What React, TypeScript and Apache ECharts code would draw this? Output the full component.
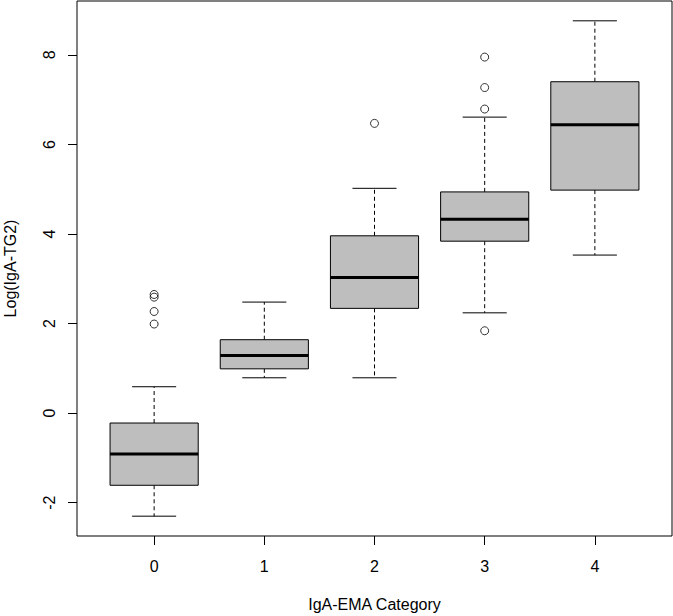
import React, { useEffect, useRef } from "react";
import * as echarts from "echarts";

// Five IgA-EMA categories, with the five-number summary of each box
const categories = ["0", "1", "2", "3", "4"];
const whiskerLow = [-2.3, 0.79, 0.79, 2.24, 3.53];
const lowerQuartile = [-1.61, 0.99, 2.34, 3.84, 4.98];
const median = [-0.91, 1.29, 3.03, 4.33, 6.44];
const upperQuartile = [-0.22, 1.64, 3.96, 4.94, 7.4];
const whiskerHigh = [0.59, 2.48, 5.02, 6.61, 8.76];

// Points beyond the whiskers
const outlierCategory = [0, 0, 0, 0, 2, 3, 3, 3, 3];
const outlierValue = [1.99, 2.27, 2.59, 2.65, 6.47, 7.95, 7.27, 6.79, 1.84];

const xTicks = [0, 1, 2, 3, 4];
const yTicks = [-2, 0, 2, 4, 6, 8];

const FONT = "'Liberation Sans', Arial, Helvetica, sans-serif";

export default function App() {
  const ref = useRef<HTMLDivElement>(null);

  useEffect(() => {
    if (!ref.current) return;
    const chart = echarts.init(ref.current, null, { renderer: "svg" });

    // y range: data extent widened by 4% on each side
    const allValues = [...whiskerLow, ...whiskerHigh, ...outlierValue];
    const lo = Math.min(...allValues);
    const hi = Math.max(...allValues);
    const pad = (hi - lo) * 0.04;

    const boxData = categories.map((_, i) => [
      i,
      whiskerLow[i],
      lowerQuartile[i],
      median[i],
      upperQuartile[i],
      whiskerHigh[i],
    ]);
    const outlierData = outlierCategory.map((c, i) => [c, outlierValue[i]]);

    const renderBox = (params: any, api: any) => {
      const x = api.value(0);
      const [cx, yLow] = api.coord([x, api.value(1)]);
      const yQ1 = api.coord([x, api.value(2)])[1];
      const yMed = api.coord([x, api.value(3)])[1];
      const yQ3 = api.coord([x, api.value(4)])[1];
      const yHigh = api.coord([x, api.value(5)])[1];
      const half = api.size([0.8, 0])[0] / 2;
      const capHalf = half / 2;
      const solid = { stroke: "#000", lineWidth: 1 };
      const dashed = { stroke: "#000", lineWidth: 1, lineDash: [4, 3] };
      return {
        type: "group",
        children: [
          { type: "line", shape: { x1: cx, y1: yQ3, x2: cx, y2: yHigh }, style: dashed },
          { type: "line", shape: { x1: cx, y1: yQ1, x2: cx, y2: yLow }, style: dashed },
          { type: "line", shape: { x1: cx - capHalf, y1: yHigh, x2: cx + capHalf, y2: yHigh }, style: solid },
          { type: "line", shape: { x1: cx - capHalf, y1: yLow, x2: cx + capHalf, y2: yLow }, style: solid },
          {
            type: "rect",
            shape: { x: cx - half, y: yQ3, width: half * 2, height: yQ1 - yQ3 },
            style: { fill: "#BEBEBE", stroke: "#000", lineWidth: 1 },
          },
          {
            type: "line",
            shape: { x1: cx - half, y1: yMed, x2: cx + half, y2: yMed },
            style: { stroke: "#000", lineWidth: 3 },
          },
        ],
      };
    };

    chart.setOption({
      animation: false,
      backgroundColor: "#fff",
      textStyle: { fontFamily: FONT },
      grid: {
        left: 77,
        right: 1,
        top: 1,
        bottom: 80,
        containLabel: false,
        outerBoundsMode: "none",
        show: true,
        borderColor: "#000",
        borderWidth: 1,
        backgroundColor: "transparent",
      },
      xAxis: {
        type: "value",
        min: -0.7,
        max: 4.7,
        name: "IgA-EMA Category",
        nameLocation: "middle",
        nameGap: 60,
        nameTextStyle: { fontSize: 16, color: "#000", fontFamily: FONT },
        axisLine: { show: false, onZero: false },
        splitLine: { show: false },
        axisTick: {
          show: true,
          customValues: xTicks,
          length: 9,
          lineStyle: { color: "#000", width: 1 },
        },
        axisLabel: {
          customValues: xTicks,
          formatter: (v: number) => categories[Math.round(v)] ?? "",
          fontSize: 16,
          color: "#000",
          fontFamily: FONT,
          margin: 22,
        },
      },
      yAxis: {
        type: "value",
        min: lo - pad,
        max: hi + pad,
        name: "Log(IgA-TG2)",
        nameLocation: "middle",
        nameGap: 59,
        nameRotate: 90,
        nameTextStyle: { fontSize: 16, color: "#000", fontFamily: FONT },
        axisLine: { show: false, onZero: false },
        splitLine: { show: false },
        axisTick: {
          show: true,
          customValues: yTicks,
          length: 9,
          lineStyle: { color: "#000", width: 1 },
        },
        axisLabel: {
          customValues: yTicks,
          rotate: 90,
          fontSize: 16,
          color: "#000",
          fontFamily: FONT,
          margin: 20,
        },
      },
      series: [
        {
          type: "custom",
          renderItem: renderBox,
          data: boxData,
          encode: { x: 0, y: [1, 2, 3, 4, 5] },
          clip: false,
        },
        {
          type: "scatter",
          data: outlierData,
          symbol: "circle",
          symbolSize: 8,
          itemStyle: { color: "transparent", borderColor: "#000", borderWidth: 1 },
        },
      ],
    });

    return () => chart.dispose();
  }, []);

  return (
    <div
      ref={ref}
      style={{ position: "fixed", left: 0, top: 0, width: 673, height: 616, background: "#fff" }}
    />
  );
}
